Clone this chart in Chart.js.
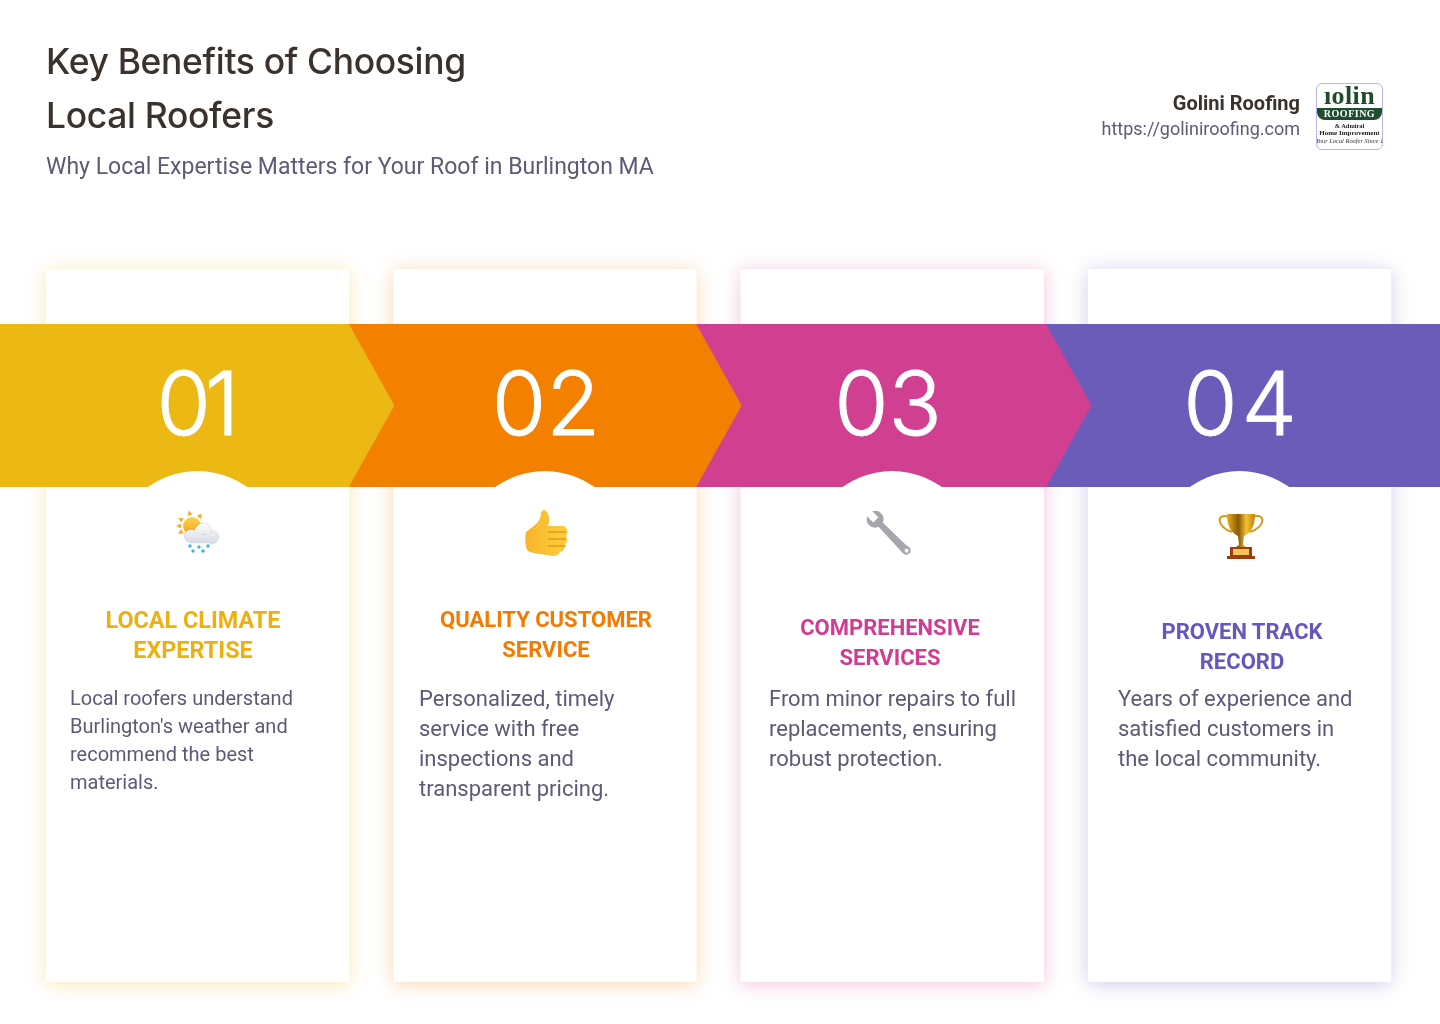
<!DOCTYPE html>
<html>
<head>
<meta charset="utf-8">
<title>Key Benefits of Choosing Local Roofers</title>
<script src="https://cdn.jsdelivr.net/npm/chart.js@4"></script>
<style>
  html, body { margin: 0; padding: 0; background: #fff; width: 1440px; height: 1024px; overflow: hidden; }
  #wrap { position: relative; width: 1440px; height: 1024px; font-family: Roboto, sans-serif; }
  canvas { position: absolute; left: 0; top: 0; }
  .t { position: absolute; white-space: pre; }
  .title { font-family: Inter, sans-serif; font-weight: 500; font-size: 35.4px; letter-spacing: -0.3px; line-height: 54px; color: #3a322c; left: 46px; top: 35px; }
  .sub { font-size: 23px; line-height: 30px; color: #5d5a76; left: 46px; top: 152px; }
  .brand { font-size: 20px; font-weight: 700; color: #3a322c; right: 140px; top: 90px; line-height: 26px; }
  .url { font-size: 18px; color: #5d5a76; right: 140px; top: 116px; line-height: 26px; }
  .num { font-family: Inter, sans-serif; font-weight: 300; font-size: 88px; line-height: 100px; color: #fff; -webkit-text-stroke: 0.9px #fff; top: 353px; transform: translateX(-50%); }
  .head { font-family: Roboto, sans-serif; font-weight: 700; line-height: 30px; text-align: center; transform: translateX(-50%); }
  .body { color: #5d5a76; }
  #logo { position: absolute; left: 1316px; top: 83px; width: 65px; height: 65px; border: 1px solid #b9b3ea; border-radius: 6px; overflow: hidden; background: #fff; color: #1f4d2e; text-align: center; }
  #logo div { position: absolute; left: 0; right: 0; white-space: nowrap; }
</style>
</head>
<body>
<div id="wrap">
  <canvas id="chart" width="1440" height="1024"></canvas>
  <div class="t title">Key Benefits of Choosing
Local Roofers</div>
  <div class="t sub">Why Local Expertise Matters for Your Roof in Burlington MA</div>
  <div class="t brand">Golini Roofing</div>
  <div class="t url">https://goliniroofing.com</div>
  <div id="logo">
    <div style="top:-3px;font:700 26px 'Liberation Serif',serif;letter-spacing:.4px">&#305;olin</div>
    <div style="top:24px;height:12px;background:#1f4d2e;color:#fff;font:700 10px/12px 'Liberation Serif',serif;letter-spacing:.5px;border-radius:0 0 8px 8px">ROOFING</div>
    <div style="top:38px;color:#222;font:700 6.4px/8px 'Liberation Serif',serif">&amp; Admiral</div>
    <div style="top:45px;left:-4px;right:-4px;color:#222;font:700 7px/8px 'Liberation Serif',serif">Home Improvement</div>
    <div style="top:53px;left:-4px;right:-4px;color:#333;font:italic 6.4px/8px 'Liberation Serif',serif">Your Local Roofer Since 1</div>
  </div>
</div>
<script>
const categories = ['01', '02', '03', '04'];
const cardValues = [1, 1, 1, 1];
const cardTitles = [
  ['LOCAL CLIMATE', 'EXPERTISE'],
  ['QUALITY CUSTOMER', 'SERVICE'],
  ['COMPREHENSIVE', 'SERVICES'],
  ['PROVEN TRACK', 'RECORD']
];
const cardBodies = [
  ['Local roofers understand', "Burlington's weather and", 'recommend the best', 'materials.'],
  ['Personalized, timely', 'service with free', 'inspections and', 'transparent pricing.'],
  ['From minor repairs to full', 'replacements, ensuring', 'robust protection.'],
  ['Years of experience and', 'satisfied customers in', 'the local community.']
];

const bandColors = ['#ecb914', '#f48000', '#d14090', '#6b5cba'];
const titleColors = ['#eeb011', '#f47a00', '#d03c92', '#6656be'];
const shadowColors = ['rgba(236,185,20,.32)', 'rgba(244,128,0,.32)', 'rgba(209,64,144,.32)', 'rgba(107,92,186,.32)'];

// text placement per card, in page pixels
const numX = [195, 546, 888, 1242];
const numGap = [-6, 0, 0, 4];
const titleX = [193, 546, 890, 1242];
const titleTop = [605, 605, 613, 617];
const titleSize = [23.4, 22, 22, 22];
const bodyX = [70, 419, 769, 1118];
const bodyTop = [684, 684, 684, 684];
const bodySize = [20, 22, 22, 22];
const bodyLine = [28, 30, 30, 30];

const BAND_TOP = 324, BAND_BOTTOM = 487, TIP = 45.5;

function addText(cls, text, css) {
  const el = document.createElement('div');
  el.className = 't ' + cls;
  el.textContent = text;
  Object.assign(el.style, css);
  document.getElementById('wrap').appendChild(el);
}

categories.forEach((c, i) => {
  addText('num', c, { left: numX[i] + 'px', letterSpacing: numGap[i] + 'px' });
  addText('head', cardTitles[i].join('\n'), { left: titleX[i] + 'px', top: titleTop[i] + 'px', color: titleColors[i], fontSize: titleSize[i] + 'px' });
  addText('body', cardBodies[i].join('\n'), {
    left: bodyX[i] + 'px', top: bodyTop[i] + 'px',
    fontSize: bodySize[i] + 'px', lineHeight: bodyLine[i] + 'px'
  });
});

function poly(ctx, pts, fill) {
  ctx.beginPath();
  pts.forEach((p, i) => i ? ctx.lineTo(p[0], p[1]) : ctx.moveTo(p[0], p[1]));
  ctx.closePath();
  ctx.fillStyle = fill;
  ctx.fill();
}

function circle(ctx, x, y, r, fill) {
  ctx.beginPath();
  ctx.arc(x, y, r, 0, Math.PI * 2);
  ctx.fillStyle = fill;
  ctx.fill();
}

function drawWeather(ctx, x, y) {
  // sun rays
  [[-34, 0], [-22, -13], [-4, -21], [11, -14], [-22, 12]].forEach(r => {
    const a = Math.atan2(r[1], r[0]);
    const bx = x - 7 + Math.cos(a) * 11, by = y - 8 + Math.sin(a) * 11;
    poly(ctx, [
      [bx + Math.cos(a) * 5, by + Math.sin(a) * 5],
      [bx + Math.cos(a + 1.57) * 2.5, by + Math.sin(a + 1.57) * 2.5],
      [bx - Math.cos(a + 1.57) * 2.5, by - Math.sin(a + 1.57) * 2.5]
    ], '#f6ab2a');
  });
  const g = ctx.createLinearGradient(0, y - 18, 0, y);
  g.addColorStop(0, '#fbd54a');
  g.addColorStop(1, '#f6a821');
  circle(ctx, x - 7, y - 8, 9, g);
  // cloud
  const c = ctx.createLinearGradient(0, y - 11, 0, y + 10);
  c.addColorStop(0, '#ffffff');
  c.addColorStop(1, '#d5dae2');
  ctx.save();
  ctx.shadowColor = 'rgba(90,100,120,.55)';
  ctx.shadowBlur = 1.5;
  ctx.beginPath();
  ctx.arc(x + 4, y - 2, 8.5, 0, Math.PI * 2);
  ctx.arc(x - 8, y + 2, 6.5, 0, Math.PI * 2);
  ctx.arc(x + 13, y + 3, 6.5, 0, Math.PI * 2);
  ctx.rect(x - 8, y + 1, 21, 7.5);
  ctx.fillStyle = c;
  ctx.fill('nonzero');
  ctx.restore();
  // rain
  [[-9, 12], [-6, 17], [0, 13], [4, 17], [9, 12]].forEach(d => circle(ctx, x + d[0], y + d[1], 1.7, '#35b4ee'));
}

function drawThumb(ctx, x, y) {
  const g = ctx.createLinearGradient(x - 22, 0, x + 22, 0);
  g.addColorStop(0, '#f8b52a');
  g.addColorStop(1, '#fccd3d');
  ctx.beginPath();
  ctx.moveTo(x - 20, y - 1);
  ctx.quadraticCurveTo(x - 12, y - 7, x - 8, y - 11);
  ctx.quadraticCurveTo(x - 5, y - 15, x - 5, y - 21);
  ctx.quadraticCurveTo(x - 2, y - 25, x + 1, y - 21);
  ctx.quadraticCurveTo(x + 5, y - 15, x + 2, y - 7);
  ctx.lineTo(x + 18, y - 7);
  ctx.quadraticCurveTo(x + 24, y - 3, x + 20, y + 3);
  ctx.quadraticCurveTo(x + 23, y + 8, x + 19, y + 11);
  ctx.quadraticCurveTo(x + 19, y + 18, x + 14, y + 19);
  ctx.quadraticCurveTo(x + 12, y + 23, x + 7, y + 23);
  ctx.lineTo(x - 6, y + 21);
  ctx.quadraticCurveTo(x - 16, y + 20, x - 19, y + 17);
  ctx.quadraticCurveTo(x - 22, y + 8, x - 20, y - 1);
  ctx.fillStyle = g;
  ctx.fill();
  ctx.strokeStyle = '#d98a14';
  ctx.lineWidth = 1.1;
  [-1, 6, 13].forEach(dy => {
    ctx.beginPath();
    ctx.moveTo(x + 2, y + dy);
    ctx.lineTo(x + 20, y + dy);
    ctx.stroke();
  });
}

function drawWrench(ctx, x, y) {
  const g = ctx.createLinearGradient(x - 6, y - 6, x + 6, y + 6);
  g.addColorStop(0, '#a5a7ad');
  g.addColorStop(1, '#6b6e76');
  ctx.save();
  ctx.translate(x, y);
  ctx.rotate(Math.PI / 4);
  ctx.fillStyle = g;
  // handle, narrow at the head and wider at the ring
  ctx.beginPath();
  ctx.moveTo(-19, -2.8);
  ctx.lineTo(19, -3.6);
  ctx.arc(23, 0, 4.5, -1.6, 1.6);
  ctx.lineTo(-19, 2.8);
  ctx.closePath();
  ctx.fill();
  // head with jaw
  ctx.beginPath();
  ctx.arc(-21, 0, 8.5, 0, Math.PI * 2);
  ctx.fill();
  ctx.fillStyle = '#fff';
  ctx.fillRect(-34, -3.6, 14, 7.2);
  circle(ctx, 23.5, 0, 1.9, '#fff');
  ctx.restore();
}

function drawTrophy(ctx, x, y) {
  const g = ctx.createLinearGradient(x - 13, 0, x + 13, 0);
  g.addColorStop(0, '#e2a51c');
  g.addColorStop(0.4, '#8a5a08');
  g.addColorStop(0.7, '#f2c232');
  g.addColorStop(1, '#c58a12');
  ctx.strokeStyle = '#d69a18';
  ctx.lineWidth = 2;
  // handles
  ctx.beginPath();
  ctx.moveTo(x - 12, y - 18);
  ctx.bezierCurveTo(x - 25, y - 23, x - 25, y - 8, x - 9, y - 3);
  ctx.moveTo(x + 12, y - 18);
  ctx.bezierCurveTo(x + 25, y - 23, x + 25, y - 8, x + 9, y - 3);
  ctx.stroke();
  // cup
  ctx.beginPath();
  ctx.moveTo(x - 14, y - 21);
  ctx.lineTo(x + 14, y - 21);
  ctx.quadraticCurveTo(x + 14, y - 4, x + 3, y + 1);
  ctx.lineTo(x + 2, y + 10);
  ctx.lineTo(x + 7, y + 13);
  ctx.lineTo(x - 7, y + 13);
  ctx.lineTo(x - 2, y + 10);
  ctx.lineTo(x - 3, y + 1);
  ctx.quadraticCurveTo(x - 14, y - 4, x - 14, y - 21);
  ctx.fillStyle = g;
  ctx.fill();
  // base
  ctx.fillStyle = '#9c3f0c';
  ctx.fillRect(x - 14, y + 21, 28, 3);
  ctx.fillRect(x - 11, y + 12, 22, 10);
  ctx.fillStyle = '#f0c65a';
  ctx.fillRect(x - 8, y + 14, 16, 6);
}

const iconDrawers = [drawWeather, drawThumb, drawWrench, drawTrophy];
const iconX = [199, 546, 890, 1241];
const iconY = [534, 533, 534, 535];

// soft coloured glow behind each card, the bars themselves are flat white
const cardShadow = {
  id: 'cardShadow',
  beforeDatasetsDraw(chart) {
    const ctx = chart.ctx;
    chart.getDatasetMeta(0).data.forEach((bar, i) => {
      const p = bar.getProps(['x', 'y', 'base', 'width'], true);
      ctx.save();
      ctx.shadowColor = shadowColors[i];
      ctx.shadowBlur = 18;
      ctx.shadowOffsetY = 2;
      ctx.fillStyle = '#fff';
      ctx.fillRect(p.x - p.width / 2, p.y, p.width, p.base - p.y);
      ctx.restore();
    });
  }
};

// chevron band + white arcs + icons go on top of the bars
const chevronBand = {
  id: 'chevronBand',
  afterDatasetsDraw(chart) {
    const ctx = chart.ctx;
    const bars = chart.getDatasetMeta(0).data;
    const mid = (BAND_TOP + BAND_BOTTOM) / 2;
    for (let i = bars.length - 1; i >= 0; i--) {
      const p = bars[i].getProps(['x', 'width'], true);
      if (i === bars.length - 1) {
        ctx.fillStyle = bandColors[i];
        ctx.fillRect(p.x - p.width / 2 - 45, BAND_TOP, chart.width - p.x + p.width / 2 + 45, BAND_BOTTOM - BAND_TOP);
        continue;
      }
      const flat = p.x + p.width / 2 + (i === 2 ? 2.5 : 0);
      const start = i === 0 ? 0 : flat - 350;
      poly(ctx, [[start, BAND_TOP], [flat, BAND_TOP], [flat + TIP, mid], [flat, BAND_BOTTOM], [start, BAND_BOTTOM]], bandColors[i]);
    }
    bars.forEach((bar, i) => {
      const p = bar.getProps(['x'], true);
      ctx.save();
      ctx.beginPath();
      ctx.rect(0, BAND_TOP, chart.width, BAND_BOTTOM - BAND_TOP);
      ctx.clip();
      circle(ctx, p.x, 555.6, 84.6, '#fff');
      ctx.restore();
      iconDrawers[i](ctx, iconX[i], iconY[i]);
    });
  }
};

new Chart(document.getElementById('chart').getContext('2d'), {
  type: 'bar',
  data: {
    labels: categories,
    datasets: [{
      data: cardValues,
      backgroundColor: '#fff',
      borderWidth: 0,
      barThickness: 302.7
    }]
  },
  options: {
    responsive: false,
    animation: false,
    layout: { padding: { left: 23.83, right: 26.83, top: 269, bottom: 42 } },
    plugins: { legend: { display: false }, tooltip: { enabled: false } },
    scales: {
      x: { display: false },
      y: { display: false, min: 0, max: 1 }
    }
  },
  plugins: [cardShadow, chevronBand]
});
</script>
</body>
</html>
